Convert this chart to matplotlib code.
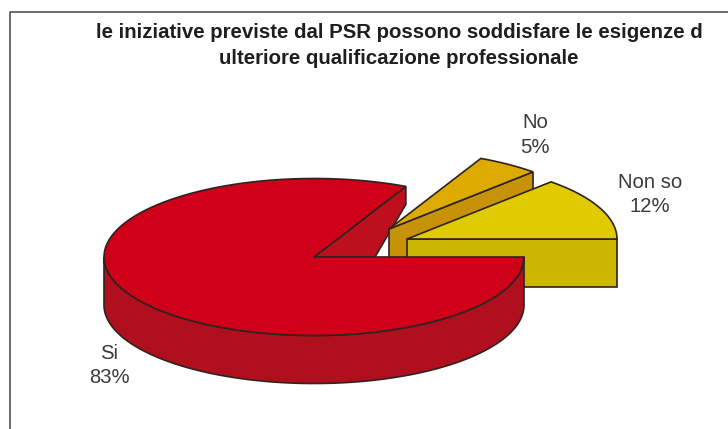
import numpy as np
import matplotlib
matplotlib.use('Agg')
import matplotlib.pyplot as plt

plt.rcParams['font.family'] = ['Liberation Sans', 'DejaVu Sans']

""" Data read from the chart """
categories = ['Non so', 'No', 'Si']
percent = [12, 5, 83]

title = ('le iniziative previste dal PSR possono soddisfare le esigenze d\n'
         'ulteriore qualificazione professionale')

""" Look of each slice, same order as categories """
top_col = ['#DFCB00', '#DDAA00', '#D00019']
wall_col = ['#CBB600', '#C89208', '#B0101E']
side_col = ['#CBB600', '#C89208', '#BE0F1E']
centres = [(407, 239), (389, 229), (314, 257)]
label_pos = [(650, 194.5), (535, 135), (109, 365.5)]

rx, ry = 210, 78.5
depth = 48
skew = 1.13      # tilt of the pie stretches the angles a bit
edge = '#2E2320'

# the red cut face is narrower than the others in the original
red_drop = 18
red_foot = 61


def tilt(a):
    # slice angle -> ellipse parameter, keeps the quadrant
    return np.arctan2(skew * np.sin(a), np.cos(a))


def rim(c, a0, a1, n=120):
    a = np.linspace(a0, a1, n)
    t = np.unwrap(tilt(a))
    return c[0] + rx * np.cos(t), c[1] - ry * np.sin(t)


fig = plt.figure(figsize=(7.28, 4.29), dpi=100)
ax = fig.add_axes([0, 0, 1, 1])
ax.set_xlim(0, 728)
ax.set_ylim(429, 0)
ax.axis('off')

# frame of the chart area, only left and top show
ax.plot([10, 10, 728], [429, 11.5, 11.5], color='#444444', lw=1.1)

angles = 2 * np.pi * np.cumsum([0] + percent) / sum(percent)
top_z = [2.5, 1.5, 5]
wall_z = [2, 1, 0.5]

for i in range(len(percent)):
    c = centres[i]
    a0, a1 = angles[i], angles[i + 1]
    x, y = rim(c, a0, a1)
    ex, ey = rim(c, a0, a0, 1)

    if i == 2:
        # red face next to the gap
        ax.fill([c[0], ex[0], ex[0], c[0] + red_foot], [c[1], ey[0], ey[0] + red_drop, c[1]],
                facecolor=side_col[i], edgecolor=edge, lw=1.2, zorder=wall_z[i])
        # front rim, only the lower half of the ellipse is visible
        wx, wy = rim(c, np.pi, 2 * np.pi)
        ax.fill(np.r_[wx, wx[::-1]], np.r_[wy, wy[::-1] + depth],
                facecolor=wall_col[i], edgecolor=edge, lw=1.2, zorder=4)
    else:
        ax.fill([c[0], ex[0], ex[0], c[0]], [c[1], ey[0], ey[0] + depth, c[1] + depth],
                facecolor=side_col[i], edgecolor=edge, lw=1.2, zorder=wall_z[i])

    ax.fill(np.r_[c[0], x], np.r_[c[1], y], facecolor=top_col[i],
            edgecolor=edge, lw=1.2, zorder=top_z[i])

for i in range(len(percent)):
    ax.text(label_pos[i][0], label_pos[i][1], '%s\n%d%%' % (categories[i], percent[i]),
            ha='center', va='center', fontsize=14.6, color='#3A3A3A',
            linespacing=1.37, zorder=6)

ax.text(399, 45.5, title, ha='center', va='center', fontsize=14.7, fontweight='bold',
        color='#1E1E1E', linespacing=1.5, zorder=6)

plt.savefig('out.png', dpi=100)
